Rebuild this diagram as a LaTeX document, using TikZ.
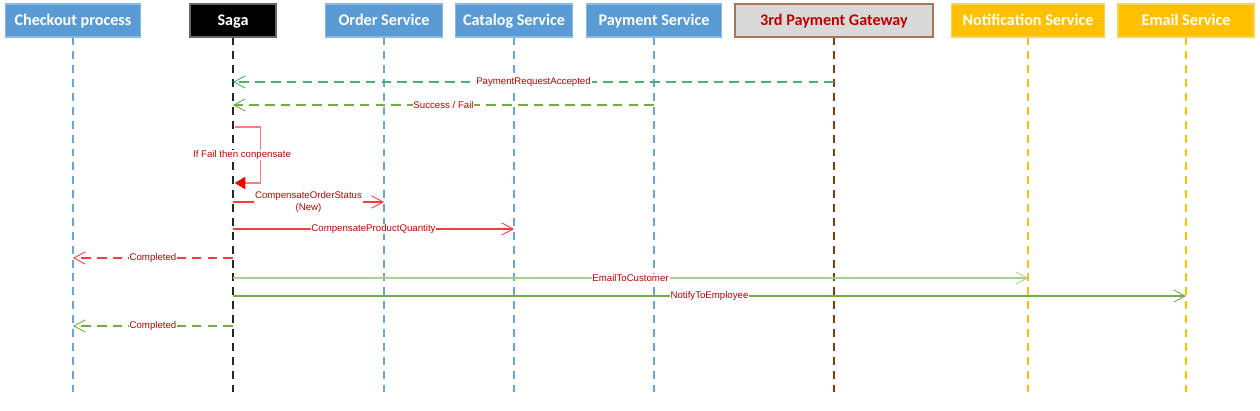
\documentclass[tikz,border=0pt]{standalone}
\usepackage{fontspec}
\newfontfamily\headfont{Carlito}
\newfontfamily\msgfont{Liberation Sans}
\usetikzlibrary{arrows.meta}

\definecolor{boxblue}{RGB}{91,155,213}
\definecolor{lineblue}{RGB}{105,165,220}
\definecolor{boxyellow}{RGB}{255,192,0}
\definecolor{gwgray}{RGB}{217,217,217}
\definecolor{gwbrown}{RGB}{132,60,12}
\definecolor{txtred}{RGB}{192,0,0}
\definecolor{accgreen}{RGB}{60,185,110}
\definecolor{okgreen}{RGB}{112,173,71}
\definecolor{palegreen}{RGB}{169,209,142}
\definecolor{msgred}{RGB}{255,60,60}
\definecolor{looppink}{RGB}{255,124,128}

\tikzset{
	head/.style={draw=#1!70!white, fill=#1, text=white, font=\headfont\bfseries\fontsize{9.2}{11}\selectfont, minimum height=33*0.02cm, text height=6.6pt, text depth=0.4pt, inner sep=0pt, line width=0.6pt},
	life/.style={draw=#1, line width=0.85pt, dash pattern=on 4.5pt off 3.4pt},
	lbl/.style={fill=white, text=txtred, font=\msgfont\fontsize{5.5}{6.6}\selectfont, inner sep=0.5pt, align=center},
	openhead/.style={-{Straight Barb[length=6.5pt,width=7pt,line width=0.5pt]}},
}

\begin{document}
\begin{tikzpicture}[x=0.02cm, y=-0.02cm]
	\useasboundingbox (0,0) rectangle (1260,410);
	
	\node[head=boxblue, minimum width=135*0.02cm] (checkout) at (73,20.5) {Checkout process};
	
	\node[head=black, draw=black!60, minimum width=86*0.02cm] (saga) at (233,20.5) {Saga};
	
	\node[head=boxblue, minimum width=117*0.02cm] (order) at (384,20.5) {Order Service};
	
	\node[head=boxblue, minimum width=117*0.02cm] (catalog) at (514,20.5) {Catalog Service};
	
	\node[head=boxblue, minimum width=135*0.02cm] (payment) at (654,20.5) {Payment Service};
	
	\node[head=gwgray, draw=gwbrown!70!white, text=txtred, minimum width=198*0.02cm] (gateway) at (834,20.5) {3rd Payment Gateway};
	
	\node[head=boxyellow, minimum width=153*0.02cm] (notify) at (1028,20.5) {Notification Service};
	
	\node[head=boxyellow, minimum width=136*0.02cm] (email) at (1186,20.5) {Email Service};
	
	% lifelines
	
	\draw[life=lineblue] (checkout.south) -- (checkout |- 0,398);
	
	\draw[life=black!85] (saga.south) -- (saga |- 0,398);
	
	\draw[life=lineblue] (order.south) -- (order |- 0,398);
	
	\draw[life=lineblue] (catalog.south) -- (catalog |- 0,398);
	
	\draw[life=lineblue] (payment.south) -- (payment |- 0,398);
	
	\draw[life=gwbrown] (gateway.south) -- (gateway |- 0,398);
	
	\draw[life=boxyellow] (notify.south) -- (notify |- 0,398);
	
	\draw[life=boxyellow] (email.south) -- (email |- 0,398);
	
	% messages
	
	\draw[openhead, draw=accgreen, line width=1.1pt, dash pattern=on 5.5pt off 3.5pt] (gateway |- 0,82) -- (saga |- 0,82) node[lbl, midway] {PaymentRequestAccepted};
	
	\draw[openhead, draw=okgreen, line width=0.8pt, dash pattern=on 5.5pt off 3.5pt] (payment |- 0,105) -- (saga |- 0,105) node[lbl, midway] {Success / Fail};
	
	\draw[draw=looppink, line width=0.8pt, -{Triangle[length=6pt,width=7pt,fill=red,color=red]}] ([xshift=1pt]saga |- 0,127) -- ++(26,0) -- ++(0,56) -- ([xshift=1pt]saga |- 0,183);
	
	\node[lbl] (loop) at (242,155) {If Fail then conpensate};
	
	\draw[openhead, draw=msgred, line width=0.6pt] (saga |- 0,202) -- (order |- 0,202) node[lbl, midway] {CompensateOrderStatus\\(New)};
	
	\draw[openhead, draw=msgred, line width=0.6pt] (saga |- 0,229) -- (catalog |- 0,229) node[lbl, midway] {CompensateProductQuantity};
	
	\draw[openhead, draw=msgred, line width=0.9pt, dash pattern=on 5.5pt off 3.5pt] (saga |- 0,258) -- (checkout |- 0,258) node[lbl, midway] {Completed};
	
	\draw[openhead, draw=palegreen, line width=1.2pt] (saga |- 0,278) -- (notify |- 0,278) node[lbl, midway] {EmailToCustomer};
	
	\draw[openhead, draw=okgreen, line width=0.75pt] (saga |- 0,296) -- (email |- 0,296) node[lbl, midway] {NotifyToEmployee};
	
	\draw[openhead, draw=okgreen, line width=1.1pt, dash pattern=on 5.5pt off 3.5pt] (saga |- 0,326) -- (checkout |- 0,326) node[lbl, midway] {Completed};
	
\end{tikzpicture}
\end{document}
